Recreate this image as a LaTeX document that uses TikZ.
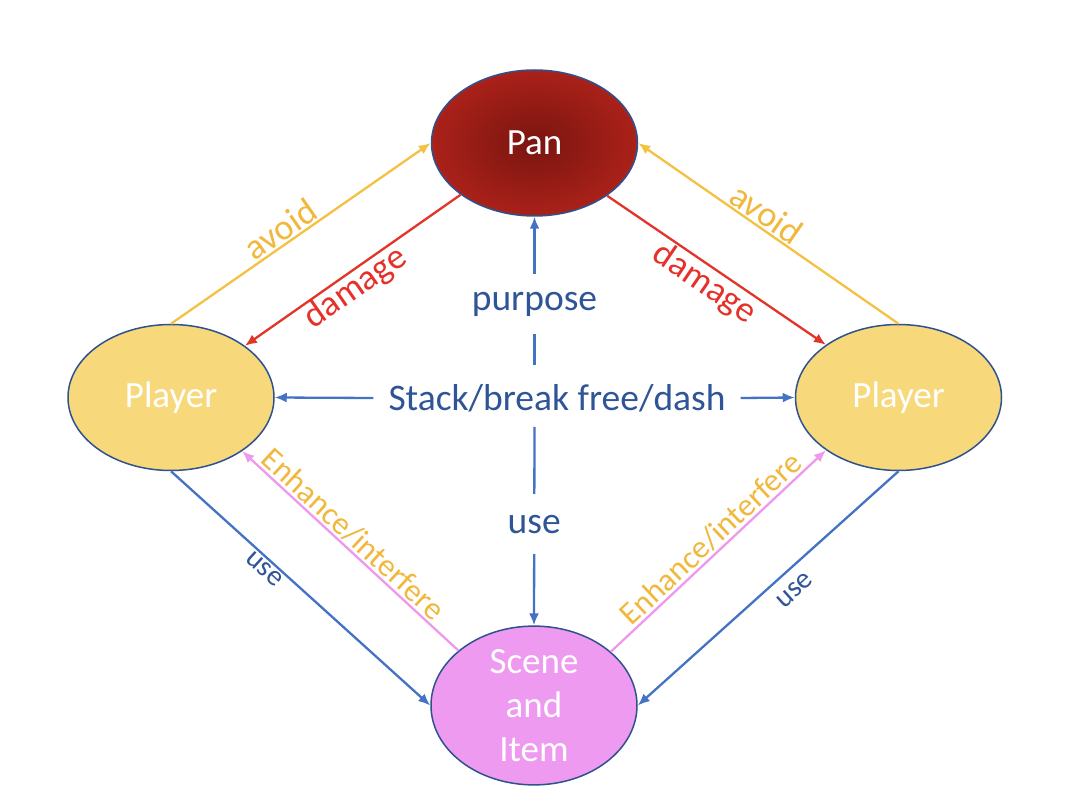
\documentclass[tikz,border=0pt]{standalone}
\usepackage{fontspec}
\setmainfont{Carlito}
\usetikzlibrary{shapes.geometric,arrows.meta}
\definecolor{nodeborder}{HTML}{2F528F}
\definecolor{playerfill}{HTML}{F7D97B}
\definecolor{scenefill}{HTML}{EE9AF0}
\definecolor{panin}{HTML}{7A1510}
\definecolor{panout}{HTML}{AA2119}
\definecolor{yelline}{HTML}{F4C143}
\definecolor{yeltext}{HTML}{F1B83C}
\definecolor{redline}{HTML}{E3342A}
\definecolor{redtext}{HTML}{E5312A}
\definecolor{blueline}{HTML}{4472C4}
\definecolor{bluetext}{HTML}{2F5597}
\definecolor{pinkline}{HTML}{EE99EE}
\begin{document}
\begin{tikzpicture}[x=1pt,y=-1pt,
  ell/.style={ellipse, draw=nodeborder, line width=1.5pt, minimum width=206pt,
    minimum height=146pt, inner sep=0pt, text=white, align=center,
    font=\fontsize{37}{44}\selectfont},
  con/.style={line width=2.3pt, -{Latex[length=12pt,width=10pt]}},
  biglbl/.style={font=\fontsize{37.5}{42}\selectfont, text=bluetext},
  gaplbl/.style={biglbl, fill=white, minimum height=60pt, inner xsep=2pt, inner ysep=0pt},
  sl/.style={sloped, inner sep=1.5pt},
  adlbl/.style={sl, font=\fontsize{36}{40}\selectfont},
  enlbl/.style={sl, font=\fontsize{32}{36}\selectfont, text=yeltext},
  uselbl/.style={sl, font=\fontsize{29}{32}\selectfont, text=bluetext}]
\useasboundingbox (0,0) rectangle (1072,802);
\fill[white] (0,0) rectangle (1072,802);

\node[ell, inner color=panin, outer color=panout] (pan) at (534.5,143) {Pan};
\node[ell, fill=playerfill] (pl) at (171,397.5) {Player};
\node[ell, fill=playerfill] (pr) at (898.5,397.5) {Player};
\node[ell, fill=scenefill] (si) at (534,705.5) {Scene\\and\\Item};

\draw[con, yelline] (pl.north) -- node[adlbl, above, pos=0.454, text=yeltext] {avoid} (pan.west);
\draw[con, redline] (pan.215.6) -- node[adlbl, below, pos=0.53, inner sep=0pt, text=redtext] {damage} (pl.35.2);
\draw[con, yelline] (pr.north) -- node[adlbl, above, pos=0.54, text=yeltext] {avoid} (pan.east);
\draw[con, redline] (pan.324.4) -- node[adlbl, below, pos=0.49, text=redtext] {damage} (pr.144.8);

\draw[con, blueline] (pl.south) -- node[uselbl, below, pos=0.386] {use} (si.west);
\draw[con, blueline] (pr.south) -- node[uselbl, below, pos=0.447, inner sep=11pt] {use} (si.east);
\draw[con, pinkline] (si.144.6) -- node[enlbl, above, pos=0.53] {Enhance/interfere} (pl.323.6);
\draw[con, pinkline] (si.35.4) -- node[enlbl, above, pos=0.51] {Enhance/interfere} (pr.216.4);

\node[biglbl, inner xsep=15pt] (st) at (557,398) {Stack/break free/dash};
\draw[con, blueline] (st.west) -- (pl.east);
\draw[con, blueline] (st.east) -- (pr.west);
\coordinate (vt) at (534.5,365);
\coordinate (vb) at (534.5,427);
\draw[con, blueline] (vt) -- node[gaplbl, pos=0.41] {purpose} (pan.south);
\draw[con, blueline] (vb) -- node[gaplbl, pos=0.49] {use} (si.north);
\end{tikzpicture}
\end{document}
